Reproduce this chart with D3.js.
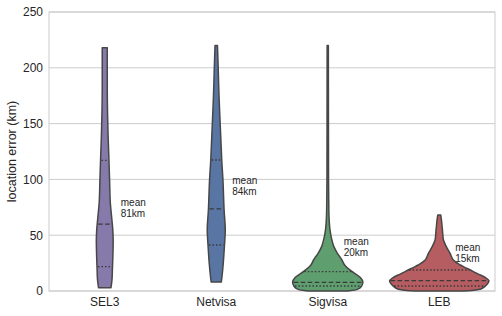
<!DOCTYPE html>
<html>
<head>
<meta charset="utf-8">
<script src="https://cdn.jsdelivr.net/npm/d3@7"></script>
<style>
  body { margin: 0; background: #fff; }
  text { font-family: "Liberation Sans", Arial, sans-serif; fill: #262626; }
</style>
</head>
<body>
<div id="vis"></div>
<script>
// Frame constants
const FRAME_WIDTH = 502;
const FRAME_HEIGHT = 316;
const MARGINS = {left: 49, right: 7, top: 12, bottom: 25};

// Data
const categories = ["SEL3", "Netvisa", "Sigvisa", "LEB"];
const colors = ["#857aaa", "#5875a4", "#5f9e6e", "#b55d60"];
const yTicks = [0, 50, 100, 150, 200, 250];

// density profiles (value in km, relative half width)
const sel3Values = [3, 10, 21, 35, 45, 55, 65, 80, 100, 117, 140, 170, 200, 218];
const sel3Density = [.124, .144, .154, .164, .168, .16, .14, .11, .096, .084, .066, .052, .05, .05];
const netvisaValues = [8, 12, 25, 41, 55, 73, 99, 117, 144, 174, 204, 220];
const netvisaDensity = [.10, .112, .14, .164, .18, .156, .134, .11, .084, .056, .036, .024];
const sigvisaValues = [0, 0.3, 1.5, 4, 8, 12, 18, 23, 28, 34, 40, 47, 55, 66, 80, 100, 150, 220];
const sigvisaDensity = [.3, .44, .59, .67, .70, .65, .466, .34, .28, .19, .12, .076, .044, .026, .02, .016, .014, .012];
const lebValues = [0, 0.5, 2, 4.5, 7, 9.3, 12, 14.3, 16.5, 18.8, 21, 23.3, 27.8, 33.7, 39.7, 45.7, 50, 54.7, 58, 61, 63.6, 66, 68];
const lebDensity = [.48, .66, .84, .92, .97, .99, .92, .82, .72, .62, .52, .42, .28, .216, .14, .084, .072, .064, .056, .05, .044, .036, .03];

// quartiles: q1, median, q3
const quartiles = [[21.8, 60, 117], [41.2, 73.5, 117.4], [4.5, 7.7, 17.3], [4.5, 9.3, 18.8]];

// mean annotations
const meanLabels = ["81km", "84km", "20km", "15km"];
const labelY = [76.2, 95.6, 41.2, 36.1];

const profiles = [
  [sel3Values, sel3Density],
  [netvisaValues, netvisaDensity],
  [sigvisaValues, sigvisaDensity],
  [lebValues, lebDensity]
];

const VIS_WIDTH = FRAME_WIDTH - MARGINS.left - MARGINS.right;
const VIS_HEIGHT = FRAME_HEIGHT - MARGINS.top - MARGINS.bottom;

const FRAME = d3.select("#vis")
  .append("svg")
    .attr("width", FRAME_WIDTH)
    .attr("height", FRAME_HEIGHT);

const X_SCALE = d3.scaleBand()
  .domain(categories)
  .range([0, VIS_WIDTH]);

const Y_SCALE = d3.scaleLinear()
  .domain([0, 250])
  .range([VIS_HEIGHT, 0]);

const W_SCALE = d3.scaleLinear()
  .domain([0, 1])
  .range([0, X_SCALE.bandwidth() * 0.45]);

const G = FRAME.append("g")
  .attr("transform", "translate(" + MARGINS.left + "," + MARGINS.top + ")");

// grid
G.selectAll(".grid")
  .data(yTicks)
  .enter()
  .append("line")
    .attr("x1", 0)
    .attr("x2", VIS_WIDTH)
    .attr("y1", d => Y_SCALE(d))
    .attr("y2", d => Y_SCALE(d))
    .attr("stroke", "#cccccc")
    .attr("stroke-width", 1);

// frame
G.append("rect")
  .attr("x", 0)
  .attr("y", 0)
  .attr("width", VIS_WIDTH)
  .attr("height", VIS_HEIGHT)
  .attr("fill", "none")
  .attr("stroke", "#cccccc")
  .attr("stroke-width", 1);

// violins
categories.forEach((cat, i) => {
  const cx = X_SCALE(cat) + X_SCALE.bandwidth() / 2;
  const vals = profiles[i][0];
  const dens = profiles[i][1];
  const pts = vals.map((v, j) => ({v: v, w: dens[j]}));

  const area = d3.area()
    .y(d => Y_SCALE(d.v))
    .x0(d => cx - W_SCALE(d.w))
    .x1(d => cx + W_SCALE(d.w))
    .curve(d3.curveCatmullRom);

  G.append("path")
    .datum(pts)
    .attr("d", area)
    .attr("fill", colors[i])
    .attr("stroke", "#474747")
    .attr("stroke-width", 1.5)
    .attr("stroke-linejoin", "round");

  // width at value
  const widthAt = d3.scaleLinear().domain(vals).range(dens);

  quartiles[i].forEach((q, k) => {
    const hw = W_SCALE(widthAt(q)) - 1;
    G.append("line")
      .attr("x1", cx - hw)
      .attr("x2", cx + hw)
      .attr("y1", Y_SCALE(q))
      .attr("y2", Y_SCALE(q))
      .attr("stroke", "#3a3a3a")
      .attr("stroke-width", 1.3)
      .attr("stroke-dasharray", k == 1 ? "4.5,2.5" : "1.5,2");
  });

  // mean annotation
  const t = G.append("text")
    .attr("x", cx + 16)
    .attr("y", Y_SCALE(labelY[i]))
    .attr("font-size", "10px");
  t.append("tspan").attr("x", cx + 16).text("mean");
  t.append("tspan").attr("x", cx + 16).attr("dy", 11).text(meanLabels[i]);
});

// y axis
const yAxis = G.append("g")
  .call(d3.axisLeft(Y_SCALE).tickValues(yTicks).tickSize(0).tickPadding(6));
yAxis.select(".domain").remove();
yAxis.selectAll("text")
  .attr("font-size", "12px")
  .attr("font-family", "Liberation Sans, Arial, sans-serif")
  .attr("fill", "#262626");

// x axis
const xAxis = G.append("g")
  .attr("transform", "translate(0," + VIS_HEIGHT + ")")
  .call(d3.axisBottom(X_SCALE).tickSize(0).tickPadding(6));
xAxis.select(".domain").remove();
xAxis.selectAll("text")
  .attr("font-size", "12px")
  .attr("font-family", "Liberation Sans, Arial, sans-serif")
  .attr("fill", "#262626");

// y label
FRAME.append("text")
  .attr("transform", "translate(16," + (MARGINS.top + VIS_HEIGHT / 2) + ") rotate(-90)")
  .attr("text-anchor", "middle")
  .attr("font-size", "12.5px")
  .text("location error (km)");
</script>
</body>
</html>
